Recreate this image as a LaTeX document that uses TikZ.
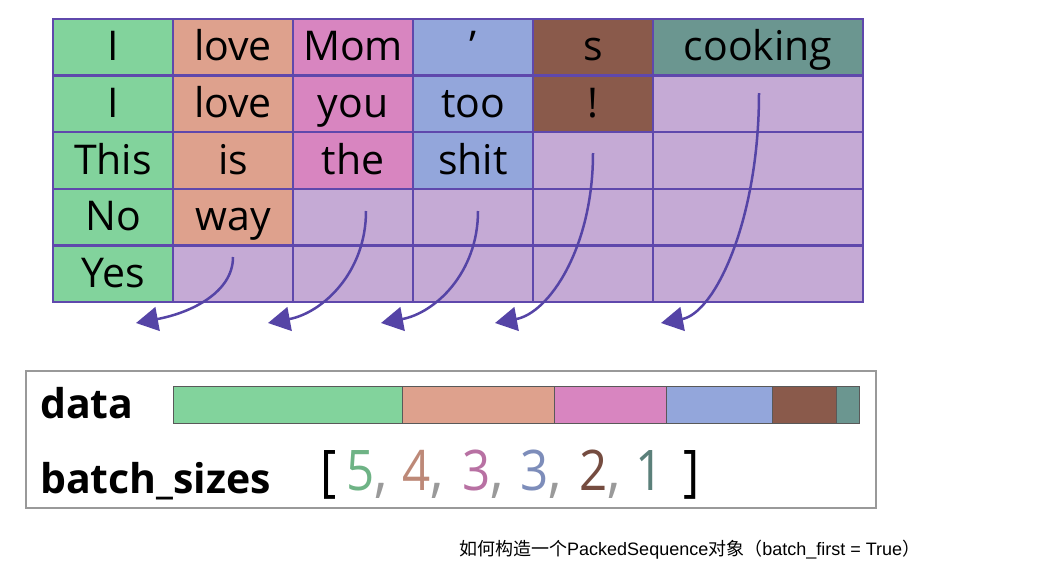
\documentclass[tikz,border=0pt]{standalone}
\usepackage{fontspec}
\setmainfont{Open Sans}
\newfontfamily\cjk{Noto Sans CJK SC}
\newfontfamily\capfont{Liberation Sans}
\newfontfamily\numfont[FakeStretch=0.88]{Open Sans}
\usetikzlibrary{arrows.meta}

\definecolor{colA}{HTML}{82D39C}
\definecolor{colB}{HTML}{DEA18D}
\definecolor{colC}{HTML}{D885C0}
\definecolor{colD}{HTML}{93A6DB}
\definecolor{colE}{HTML}{8A5A4B}
\definecolor{colF}{HTML}{6B9690}
\definecolor{lav}{HTML}{C5AAD5}
\definecolor{gridline}{HTML}{5F48AC}
\definecolor{arrowc}{HTML}{5544A6}
\definecolor{commac}{HTML}{9A9A9A}

\begin{document}
\begin{tikzpicture}[
		x=1pt, y=-1pt,
		cell/.style={rectangle, draw=gridline, line width=2.4pt, minimum width=#1, minimum height=56.6pt, inner sep=0pt},
		word/.style={inner sep=0pt, text height=27pt, text depth=0pt, font=\fontsize{41pt}{45pt}\selectfont},
		lbl/.style={anchor=base west, inner sep=0pt, font=\bfseries\fontsize{41pt}{45pt}\selectfont},
		numtxt/.style={anchor=base west, inner sep=0pt, font=\numfont\fontsize{56pt}{60pt}\selectfont},
		seg/.style={draw=black!65, line width=1pt},
		frame/.style={draw=black!40, line width=1.6pt},
		flow/.style={draw=arrowc, line width=2.5pt, -{Triangle[length=22pt, width=24pt]}},
		caption/.style={anchor=base west, inner sep=0pt, font=\capfont\fontsize{18pt}{21pt}\selectfont}
		]
		\useasboundingbox (0,0) rectangle (1041,571);
		
		% the padded batch
		\foreach \c/\cx/\cw/\n in {A/113/120/5, B/233/120/4, C/353/120/3, D/473/120/3, E/593/120/2, F/758/210/1}
		\foreach \r in {1,...,5} {
			\ifnum\r>\n \def\fc{lav}\else\def\fc{col\c}\fi
			\node[cell=\cw, fill=\fc] (cell-\r-\c) at (\cx, 47.3+56.6*\r-56.6) {};
		}
		\foreach \r/\c/\w in {1/A/I, 1/B/love, 1/C/Mom, 1/D/’, 1/E/s, 1/F/cooking,
			2/A/I, 2/B/love, 2/C/you, 2/D/too, 2/E/!,
			3/A/This, 3/B/is, 3/C/the, 3/D/shit,
			4/A/No, 4/B/way,
			5/A/Yes}
		\node[word] (w-\r-\c) at (cell-\r-\c) {\w};
		
		% arrows out of the padding
		\coordinate (s1) at (233,257); \coordinate (t1) at (136,323);
		\coordinate (s2) at (366,211); \coordinate (t2) at (268,323);
		\coordinate (s3) at (478,211); \coordinate (t3) at (381,323);
		\coordinate (s4) at (593,153); \coordinate (t4) at (495,323);
		\coordinate (s5) at (759,93);  \coordinate (t5) at (661,323);
		\foreach \i/\up in {1/36, 2/62, 3/62, 4/95, 5/127}
		\draw[flow] (s\i) .. controls +(0,\up) and +(54,-10) .. (t\i);
		
		% packed sequence
		\draw[frame] (26,371) rectangle (876,508);
		\node[lbl] (datalbl) at (40,418) {data};
		\node[lbl] (sizelbl) at (40,493) {batch\_sizes};
		\foreach \c/\a/\b in {A/173/402, B/402/554, C/554/666, D/666/772, E/772/836, F/836/859}
		\draw[seg, fill=col\c] (\a,386) rectangle (\b,423);
		
		\node[numtxt] (lbr) at (320,490) {[};
		\foreach \c/\v/\x in {A/5/346, B/4/402, C/3/462, D/3/520, E/2/579}
		\node[numtxt] (num\c) at (\x,490) {{\color{col\c!85!black}\v}{\color{commac}\fontsize{62pt}{62pt}\selectfont,}};
		\node[numtxt] (numF) at (635,490) {{\color{colF!85!black}1}};
		\node[numtxt] (rbr) at (683,490) {]};
		
		\node[caption] (cap) at (459,555) {{\cjk 如何构造一个}PackedSequence{\cjk 对象（}batch\_first = True{\cjk ）}};
	\end{tikzpicture}
\end{document}
